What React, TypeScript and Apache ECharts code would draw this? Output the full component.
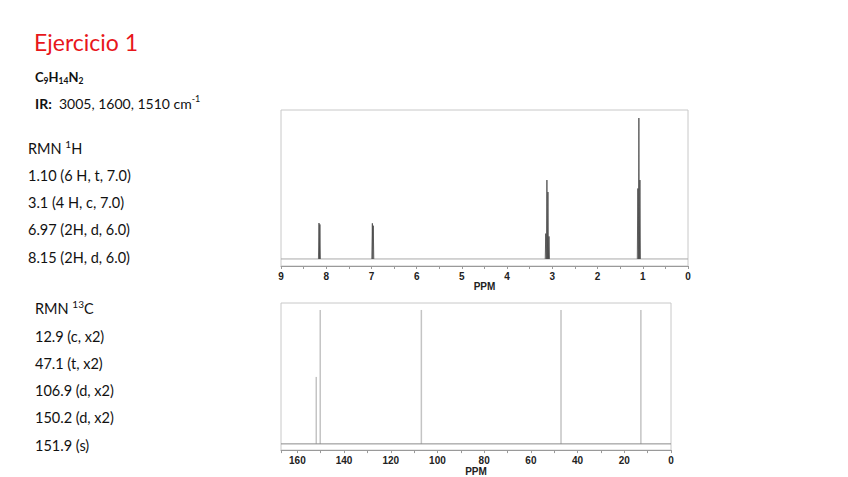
import React, { useEffect, useRef } from "react";
import * as echarts from "echarts";

// 1H NMR peak list (ppm, relative intensity)
const H1_PPM = [8.16, 8.14, 6.98, 6.96, 3.145, 3.12, 3.097, 3.074, 1.109, 1.086, 1.063];
const H1_INT = [25.5, 24.5, 25.3, 23.6, 18, 56, 47.5, 16, 50, 100, 56];
// 13C NMR peak list
const C13_PPM = [151.9, 150.2, 106.9, 47.1, 12.9];
const C13_INT = [50, 100, 100, 100, 100];

const TITLE = "Ejercicio 1";
const IR_VALUES = "3005, 1600, 1510";
const H1_LINES = ["1.10 (6 H, t, 7.0)", "3.1 (4 H, c, 7.0)", "6.97 (2H, d, 6.0)", "8.15 (2H, d, 6.0)"];
const C13_LINES = ["12.9 (c, x2)", "47.1 (t, x2)", "106.9 (d, x2)", "150.2 (d, x2)", "151.9 (s)"];

const FONT = "Lato, 'Open Sans', sans-serif";
const AXFONT = "'Liberation Sans', Arial, sans-serif";
const TXT = "#111111";

export default function App() {
  const ref = useRef<HTMLDivElement>(null);
  useEffect(() => {
    if (!ref.current) return;
    const chart = echarts.init(ref.current, undefined, { renderer: "svg" });

    const halfW = 0.012;
    const h1Data: any[] = [];
    H1_PPM.forEach((p, i) => {
      h1Data.push([p + halfW, 0], [p, H1_INT[i]], [p - halfW, 0], [p, "-"]);
    });

    const textY = (i: number, y0: number, step: number) => y0 + i * step;

    const graphics: any[] = [
      {
        type: "text", x: 34, y: 42,
        style: { text: TITLE, fill: "#e8161b", fontSize: 23, fontFamily: FONT, verticalAlign: "middle" },
      },
      {
        type: "text", x: 35, y: 77,
        style: {
          text: "{b|C}{s|9}{b|H}{s|14}{b|N}{s|2}",
          verticalAlign: "middle",
          rich: {
            b: { fontSize: 13, fontWeight: "bold", fontFamily: FONT, fill: TXT, lineHeight: 17 },
            s: { fontSize: 8.5, fontWeight: "bold", fontFamily: FONT, fill: TXT, lineHeight: 17, verticalAlign: "bottom" },
          },
        },
      },
      {
        type: "text", x: 35, y: 103,
        style: {
          text: "{b|IR:}{n|  " + IR_VALUES + " cm}{u|-1}",
          verticalAlign: "middle",
          rich: {
            b: { fontSize: 14, fontWeight: "bold", fontFamily: FONT, fill: TXT, lineHeight: 18 },
            n: { fontSize: 14, fontFamily: FONT, fill: TXT, lineHeight: 18 },
            u: { fontSize: 9, fontFamily: FONT, fill: TXT, lineHeight: 18, verticalAlign: "top" },
          },
        },
      },
      {
        type: "text", x: 28, y: 148,
        style: {
          text: "{n|RMN }{u|1}{n|H}",
          verticalAlign: "middle",
          rich: {
            n: { fontSize: 14.5, fontFamily: FONT, fill: TXT, lineHeight: 18 },
            u: { fontSize: 10, fontFamily: FONT, fill: TXT, lineHeight: 18, verticalAlign: "top" },
          },
        },
      },
      {
        type: "text", x: 35, y: 308,
        style: {
          text: "{n|RMN }{u|13}{n|C}",
          verticalAlign: "middle",
          rich: {
            n: { fontSize: 14.5, fontFamily: FONT, fill: TXT, lineHeight: 18 },
            u: { fontSize: 10, fontFamily: FONT, fill: TXT, lineHeight: 18, verticalAlign: "top" },
          },
        },
      },
    ];
    H1_LINES.forEach((t, i) => {
      graphics.push({
        type: "text", x: 28, y: textY(i, 175, 27.4),
        style: { text: t, fill: TXT, fontSize: 14.5, fontFamily: FONT, verticalAlign: "middle" },
      });
    });
    C13_LINES.forEach((t, i) => {
      graphics.push({
        type: "text", x: 35, y: textY(i, 336, 27.3),
        style: { text: t, fill: TXT, fontSize: 14.5, fontFamily: FONT, verticalAlign: "middle" },
      });
    });

    const axisCommon = (min: number, max: number, interval: number, gridIndex: number, nameGap: number) => ({
      gridIndex,
      type: "value",
      inverse: true,
      min,
      max,
      interval,
      position: "bottom",
      axisLine: { show: true, onZero: false, lineStyle: { color: "#9a9a9a", width: 1 } },
      axisTick: { show: true, length: 3, inside: false, lineStyle: { color: "#9a9a9a" } },
      minorTick: { show: true, splitNumber: 2, length: 3, lineStyle: { color: "#9a9a9a" } },
      axisLabel: {
        margin: 5, fontSize: 10, fontWeight: "bold", color: "#222", fontFamily: AXFONT,
        showMaxLabel: max === 9, showMinLabel: true,
      },
      splitLine: { show: false },
      minorSplitLine: { show: false },
      name: "PPM",
      nameLocation: "middle",
      nameGap,
      nameTextStyle: { fontSize: 10, fontWeight: "bold", color: "#222", fontFamily: AXFONT },
    });

    chart.setOption({
      animation: false,
      backgroundColor: "#ffffff",
      grid: [
        { left: 281, top: 110, width: 407, height: 156, show: true, borderColor: "#c8c8c8", borderWidth: 1 },
        { left: 281, top: 303, width: 390, height: 149, show: true, borderColor: "#c8c8c8", borderWidth: 1 },
      ],
      xAxis: [axisCommon(0, 9, 1, 0, 15), axisCommon(0, 167, 20, 1, 11)],
      yAxis: [
        { gridIndex: 0, type: "value", min: -5, max: 105.7, show: false, splitLine: { show: false } },
        { gridIndex: 1, type: "value", min: -4.64, max: 105.2, show: false, splitLine: { show: false } },
      ],
      graphic: graphics,
      series: [
        {
          type: "line", xAxisIndex: 0, yAxisIndex: 0, data: [[9, 0], [0, 0]],
          symbol: "none", lineStyle: { color: "#aaaaaa", width: 1 }, silent: true,
        },
        {
          type: "line", xAxisIndex: 0, yAxisIndex: 0, data: h1Data, connectNulls: false,
          symbol: "none", lineStyle: { color: "#444444", width: 0.8 }, silent: true,
        },
        {
          type: "line", xAxisIndex: 1, yAxisIndex: 1, data: [[167, 0], [0, 0]],
          symbol: "none", lineStyle: { color: "#8a8a8a", width: 1 }, silent: true,
        },
        {
          type: "bar", xAxisIndex: 1, yAxisIndex: 1,
          data: C13_PPM.map((p, i) => [p, C13_INT[i]]),
          barWidth: 1.5, itemStyle: { color: "#c4c4c4" }, silent: true,
        },
      ],
    });
    return () => chart.dispose();
  }, []);
  return (
    <div
      ref={ref}
      style={{ position: "absolute", left: 0, top: 0, width: 848, height: 477, background: "#fff" }}
    />
  );
}
